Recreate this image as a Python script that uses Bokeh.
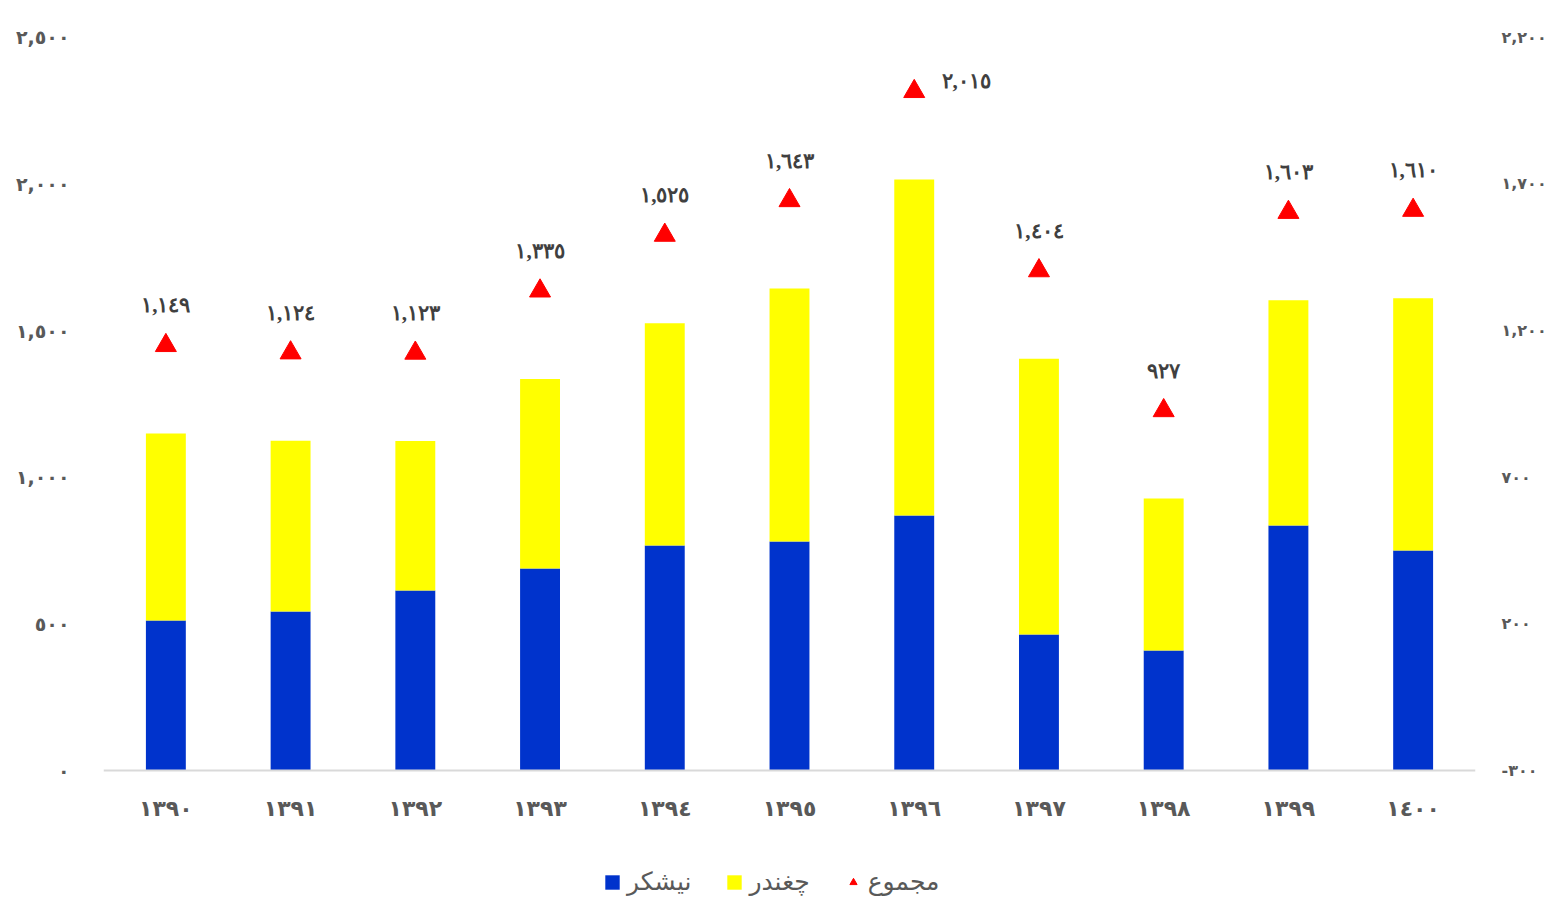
from bokeh.plotting import figure
from bokeh.models import (Range1d, LinearAxis, FixedTicker, ColumnDataSource,
                          LabelSet, Legend, LegendItem, FactorRange)
from bokeh.embed import file_html
from bokeh.resources import INLINE

# ---------------- data ----------------
years = ["١٣٩٠", "١٣٩١", "١٣٩٢", "١٣٩٣", "١٣٩٤", "١٣٩٥",
         "١٣٩٦", "١٣٩٧", "١٣٩٨", "١٣٩٩", "١٤٠٠"]
sugarcane = [511, 542, 614, 689, 767, 781, 869, 464, 409, 835, 750]
beet = [638, 582, 509, 646, 758, 862, 1146, 940, 518, 768, 860]
total = [1149, 1124, 1123, 1335, 1525, 1643, 2015, 1404, 927, 1603, 1610]
total_labels = ["١,١٤٩", "١,١٢٤", "١,١٢٣", "١,٣٣٥", "١,٥٢٥", "١,٦٤٣",
                "٢,٠١٥", "١,٤٠٤", "٩٢٧", "١,٦٠٣", "١,٦١٠"]
left_ticks = [0, 500, 1000, 1500, 2000, 2500]
left_tick_labels = ["٠", "٥٠٠", "١,٠٠٠", "١,٥٠٠", "٢,٠٠٠", "٢,٥٠٠"]
right_ticks = [-300, 200, 700, 1200, 1700, 2200]
right_tick_labels = ["-٣٠٠", "٢٠٠", "٧٠٠", "١,٢٠٠", "١,٧٠٠", "٢,٢٠٠"]
series_names = ["نیشکر", "چغندر", "مجموع"]

# ---------------- style ----------------
FONT = "DejaVu Sans"
GRAY = "#595959"
BLUE = "#0033CC"
YELLOW = "#FFFF00"

# layout (px)
TOP = 20
PLOT_H = 750          # from y=0 line to top of frame
BELOW = 128           # room under the zero line for labels + legend
Y_TOP = 2557          # left-axis value at top of frame
RIGHT_SHIFT = 300     # right axis = left axis - 300
y_bottom = -BELOW * Y_TOP / PLOT_H

# label nudges (screen px)
label_dx = [0] * len(years)
label_dy = [40] * len(years)
label_dx[6] = 52
label_dy[6] = 10

src = ColumnDataSource(dict(years=years, sugarcane=sugarcane, beet=beet,
                            total=total, total_labels=total_labels,
                            dx=label_dx, dy=label_dy))

p = figure(x_range=FactorRange(*years, range_padding=0),
           y_range=Range1d(y_bottom, Y_TOP),
           frame_width=1372, frame_height=PLOT_H + BELOW,
           min_border_left=103, min_border_right=70, min_border_top=TOP,
           min_border_bottom=0,
           output_backend="svg", toolbar_location=None)
p.extra_y_ranges = {"right": Range1d(y_bottom - RIGHT_SHIFT, Y_TOP - RIGHT_SHIFT)}

bars = p.vbar_stack(["sugarcane", "beet"], x="years", width=0.32,
                    color=[BLUE, YELLOW], line_color=None, source=src)
tri = p.scatter(x="years", y="total", marker="triangle", size=21,
                fill_color="#FF0000", line_color="#FF0000",
                y_range_name="right", source=src)

labels = LabelSet(x="years", y="total", text="total_labels", source=src,
                  y_range_name="right", x_offset="dx", y_offset="dy",
                  text_align="center", text_baseline="middle",
                  text_font=FONT, text_font_size="21px", text_font_style="bold",
                  text_color="#404040")
p.add_layout(labels)

# axes
p.yaxis.ticker = FixedTicker(ticks=left_ticks)
p.yaxis.major_label_overrides = dict(zip(left_ticks, left_tick_labels))
ry = LinearAxis(y_range_name="right", ticker=FixedTicker(ticks=right_ticks))
ry.major_label_overrides = dict(zip(right_ticks, right_tick_labels))
p.add_layout(ry, "right")

for ax in [p.yaxis[0], ry]:
    ax.axis_line_color = None
    ax.major_tick_line_color = None
    ax.minor_tick_line_color = None
    ax.major_label_text_font = FONT
    ax.major_label_text_font_style = "bold"
    ax.major_label_text_color = GRAY
p.yaxis[0].major_label_text_font_size = "19px"
p.yaxis[0].major_label_standoff = 28
ry.major_label_text_font_size = "16px"
ry.major_label_standoff = 20

xa = p.xaxis[0]
xa.fixed_location = 0
xa.axis_line_color = "#D9D9D9"
xa.axis_line_width = 2
xa.major_tick_line_color = None
xa.minor_tick_line_color = None
xa.major_label_text_font = FONT
xa.major_label_text_font_size = "22px"
xa.major_label_text_font_style = "bold"
xa.major_label_text_color = GRAY
xa.major_label_standoff = 19

p.xgrid.grid_line_color = None
p.ygrid.grid_line_color = None
p.outline_line_color = None

legend = Legend(items=[LegendItem(label=series_names[0], renderers=[bars[0]]),
                       LegendItem(label=series_names[1], renderers=[bars[1]]),
                       LegendItem(label=series_names[2], renderers=[tri])],
                orientation="horizontal", location=(500, 2),
                label_text_font=FONT, label_text_font_size="25px",
                label_text_color=GRAY, glyph_width=18, glyph_height=18,
                spacing=34, label_standoff=6, border_line_color=None,
                background_fill_alpha=0, margin=0, padding=0)
p.add_layout(legend, "center")

open("out.html", "w").write(file_html(p, INLINE))
